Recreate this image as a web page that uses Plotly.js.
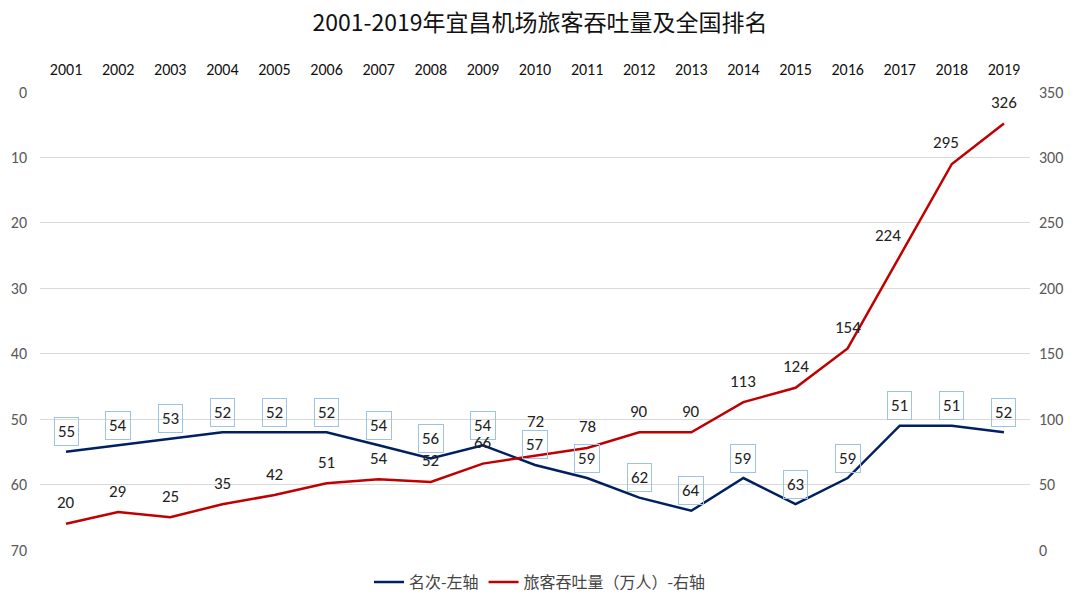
<!DOCTYPE html>
<html><head><meta charset="utf-8">
<script src="https://cdn.plot.ly/plotly-3.0.1.min.js"></script>
<style>html,body{margin:0;padding:0;background:#fff}#chart{width:1080px;height:607px}</style>
</head><body><div id="chart"></div>
<script>
const years = ['2001','2002','2003','2004','2005','2006','2007','2008','2009','2010','2011','2012','2013','2014','2015','2016','2017','2018','2019'];
const rank = [55,54,53,52,52,52,54,56,54,57,59,62,64,59,63,59,51,51,52];
const passengers = [20,29,25,35,42,51,54,52,66,72,78,90,90,113,124,154,224,295,326];
const leftTicks = [0,10,20,30,40,50,60,70];
const rightTicks = [0,50,100,150,200,250,300,350];

const FONT = 'Calibri, Carlito, "Noto Sans", "Noto Sans CJK SC", sans-serif';
const CJK = '"Noto Sans CJK SC", "Noto Sans", sans-serif';

const traces = [
  {x: years, y: rank, name: '名次-左轴', type: 'scatter', mode: 'lines',
   line: {color: '#002060', width: 2.5}, yaxis: 'y'},
  {x: years, y: passengers, name: '旅客吞吐量（万人）-右轴', type: 'scatter', mode: 'lines',
   line: {color: '#C00000', width: 2.5}, yaxis: 'y2'}
];

const annotations = [];
years.forEach((yr, i) => {
  annotations.push({x: i, y: rank[i], xref: 'x', yref: 'y', text: String(rank[i]),
    showarrow: false, yshift: 20, bordercolor: '#9DC3E6', borderwidth: 1, borderpad: 3,
    bgcolor: 'rgba(255,255,255,0)', font: {family: FONT, size: 17, color: '#222'}});
  annotations.push({x: i, y: passengers[i], xref: 'x', yref: 'y2', text: String(passengers[i]),
    showarrow: false, yshift: (yr === '2010' ? 34 : 21),
    xshift: (yr === '2017' ? -12 : (yr === '2018' ? -6 : 0)),
    font: {family: FONT, size: 17, color: '#222'}});
});

const layout = {
  width: 1080, height: 607,
  margin: {l: 40, r: 50, t: 92, b: 57},
  paper_bgcolor: '#fff', plot_bgcolor: '#fff',
  title: {text: '2001-2019年宜昌机场旅客吞吐量及全国排名', x: 0.5, xanchor: 'center', y: 0.963, yanchor: 'middle',
          font: {family: CJK, size: 23, color: '#111'}},
  xaxis: {type: 'category', side: 'top', range: [-0.5, years.length - 0.5], autorange: false,
          showgrid: false, zeroline: false, showline: false, ticks: '',
          tickfont: {family: FONT, size: 16, color: '#111'}, ticklabelstandoff: 13, fixedrange: true},
  yaxis: {range: [70, 0], autorange: false, tickvals: leftTicks, showgrid: true, gridcolor: '#D9D9D9', gridwidth: 1,
          zeroline: false, showline: false, ticks: '', tickfont: {family: FONT, size: 16, color: '#595959'},
          ticklabelstandoff: 12},
  yaxis2: {range: [0, 350], autorange: false, tickvals: rightTicks, overlaying: 'y', side: 'right', showgrid: false,
           zeroline: false, showline: false, ticks: '', tickfont: {family: FONT, size: 16, color: '#595959'},
           ticklabelstandoff: 8},
  legend: {orientation: 'h', x: 0.5, xanchor: 'center', xref: 'container', yref: 'container', y: 0.041, yanchor: 'middle',
           font: {family: CJK, size: 16, color: '#444'}, itemwidth: 30},
  annotations: annotations,
  showlegend: true
};

Plotly.newPlot('chart', traces, layout, {displayModeBar: false, staticPlot: true});
</script></body></html>
